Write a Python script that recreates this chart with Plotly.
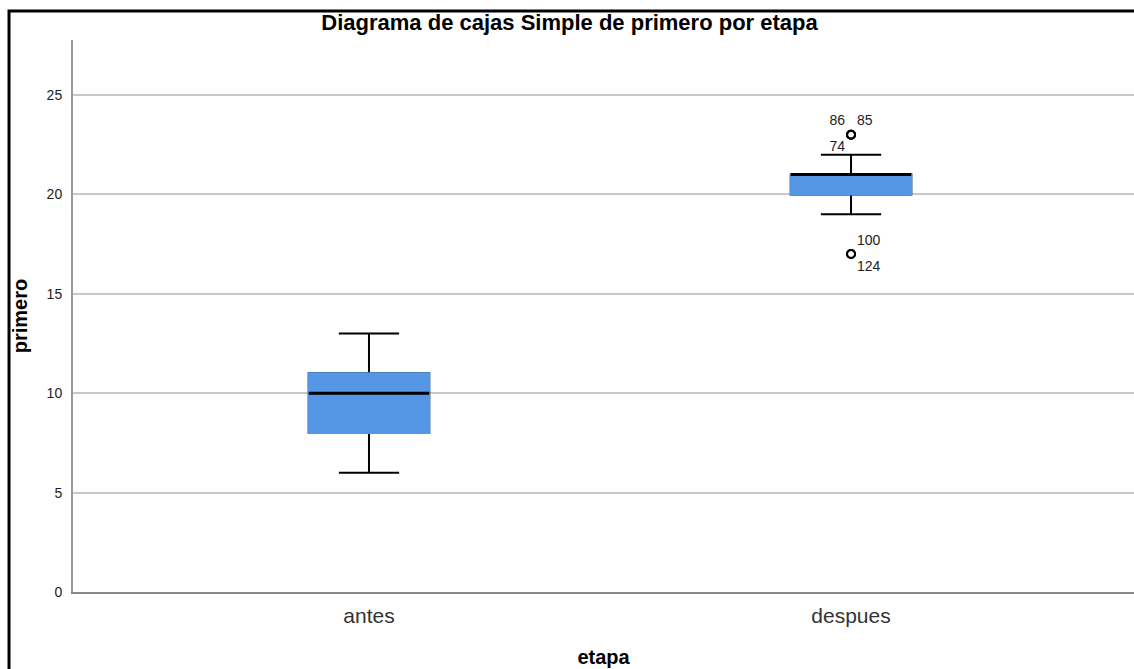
import plotly.graph_objects as go

categories = ["antes", "despues"]
lower_whisker = [6, 19]
q1 = [8, 20]
median = [10, 21]
q3 = [11, 21]
upper_whisker = [13, 22]

outlier_cat = ["despues", "despues", "despues", "despues", "despues"]
outlier_val = [23, 23, 23, 17, 17]
outlier_ids = ["86", "85", "74", "100", "124"]
outlier_textpos = ["top left", "top right", "bottom left", "top right", "bottom right"]

y_ticks = [0, 5, 10, 15, 20, 25]

BLUE = "#5597e4"
FONT = "Liberation Sans, Arial, sans-serif"

fig = go.Figure()

# whiskers + caps (black)
fig.add_trace(go.Box(
    x=categories, q1=q1, median=median, q3=q3,
    lowerfence=lower_whisker, upperfence=upper_whisker,
    fillcolor=BLUE, line=dict(color="black", width=2),
    width=0.25, whiskerwidth=0.5, showlegend=False, hoverinfo="skip"))
# blue box body covering the outline
fig.add_trace(go.Box(
    x=categories, q1=q1, median=q1, q3=q3,
    lowerfence=q1, upperfence=q3,
    fillcolor=BLUE, line=dict(color=BLUE, width=2),
    width=0.25, whiskerwidth=0, showlegend=False, hoverinfo="skip"))
# median line
fig.add_trace(go.Box(
    x=categories, q1=median, median=median, q3=median,
    lowerfence=median, upperfence=median,
    fillcolor="black", line=dict(color="black", width=3),
    width=0.25, whiskerwidth=0, showlegend=False, hoverinfo="skip"))

# outliers
fig.add_trace(go.Scatter(
    x=outlier_cat, y=outlier_val, mode="markers+text",
    text=outlier_ids, textposition=outlier_textpos,
    textfont=dict(family=FONT, size=14, color="#222"),
    marker=dict(symbol="circle-open", size=8, color="black", line=dict(width=2)),
    showlegend=False, hoverinfo="skip", cliponaxis=False))

fig.update_layout(
    width=1134, height=669,
    margin=dict(l=73, r=0, t=40, b=77),
    paper_bgcolor="white", plot_bgcolor="white",
    boxmode="overlay",
    font=dict(family=FONT, color="#222"),
    title=dict(text="<b>Diagrama de cajas Simple de primero por etapa</b>",
               x=0.468, xref="paper", xanchor="center", y=0.967, yanchor="middle",
               font=dict(family=FONT, size=22, color="black")),
    xaxis=dict(range=[-0.614, 1.587], showgrid=False, showline=True,
               linecolor="#888", linewidth=2, ticks="", zeroline=False,
               ticklabelstandoff=4,
               tickfont=dict(family=FONT, size=21, color="#333"),
               title=dict(text="<b>etapa</b>", font=dict(family=FONT, size=20, color="black"), standoff=24)),
    yaxis=dict(range=[0, 27.77], tickvals=y_ticks, showgrid=True, gridcolor="#c8c8c8",
               gridwidth=1.5, showline=True, linecolor="#999", linewidth=2, zeroline=False,
               ticks="", ticklabelstandoff=6, tickfont=dict(family=FONT, size=14, color="#222"),
               title=dict(text="<b>primero</b>", font=dict(family=FONT, size=20, color="black"), standoff=14)),
    shapes=[dict(type="path", xref="paper", yref="paper",
                 path="M -0.0603,-0.2 L -0.0603,1.0525 L 1.05,1.0525",
                 line=dict(color="black", width=3))],
)

fig.write_html("out.html", config={"displayModeBar": False},
               post_script="document.body.style.margin='0';document.body.style.overflow='hidden';")
